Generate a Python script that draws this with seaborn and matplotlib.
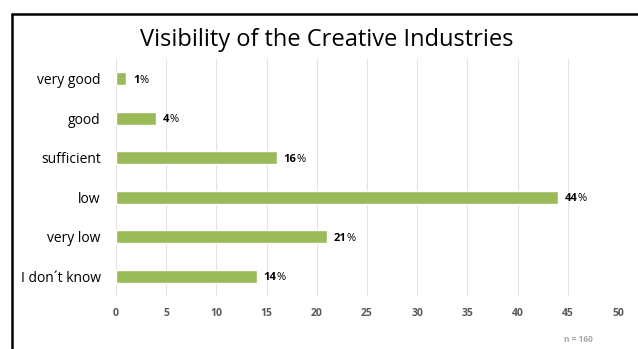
import matplotlib
matplotlib.use("Agg")
import matplotlib.pyplot as plt
import seaborn as sns
import pandas as pd
from matplotlib.lines import Line2D

categories = ["very good", "good", "sufficient", "low", "very low", "I don\u00b4t know"]
values = [1, 4, 16, 44, 21, 14]
x_ticks = [0, 5, 10, 15, 20, 25, 30, 35, 40, 45, 50]
title = "Visibility of the Creative Industries"
note = "n = 160"

sns.set_theme(style="white")
plt.rcParams['font.family'] = ['Open Sans', 'DejaVu Sans']

W, H = 638, 349
fig = plt.figure(figsize=(W / 100, H / 100), dpi=100)
ax = fig.add_axes([116 / W, 1 - 296 / H, (618 - 116) / W, (296 - 59) / H])

df = pd.DataFrame({"category": categories, "value": values})
sns.barplot(data=df, y="category", x="value", orient="h", color="#9BBB59",
            saturation=1, width=0.33, ax=ax, zorder=3)

ax.set_xlim(0, 50)
ax.set_xticks(x_ticks)
ax.set_xticklabels([str(t) for t in x_ticks], fontsize=7.5, fontweight="bold", color="#595959")
ax.tick_params(axis="x", length=0, pad=9)
ax.tick_params(axis="y", length=0, pad=11, labelsize=10, labelcolor="#000000")
ax.set_xlabel("")
ax.set_ylabel("")
for s in ax.spines.values():
    s.set_visible(False)
ax.grid(axis="x", color="#E3E3E3", linewidth=0.8, zorder=0)
ax.grid(axis="y", visible=False)

for i, v in enumerate(values):
    t = ax.annotate(str(v), xy=(v, i), xytext=(5, 0), textcoords="offset points",
                    ha="left", va="center_baseline", fontsize=8, fontweight="bold", color="#000000")
    ax.annotate("%", xy=(1, 0), xycoords=t, xytext=(0, 0), textcoords="offset points",
                ha="left", va="bottom", fontsize=8, color="#000000")

fig.text(327 / W, 1 - 40 / H, title, ha="center", va="center", fontsize=17, color="#000000")
fig.text(578 / W, 1 - 340 / H, note, ha="center", va="center", fontsize=6, color="#A6A6A6", fontweight="bold")

fig.add_artist(Line2D([12 / W, 12 / W], [0, 1 - 14 / H], transform=fig.transFigure, color="black", linewidth=1.8))
fig.add_artist(Line2D([12 / W, 1], [1 - 14 / H, 1 - 14 / H], transform=fig.transFigure, color="black", linewidth=1.8))

fig.savefig("out.png", dpi=100, facecolor="white")
